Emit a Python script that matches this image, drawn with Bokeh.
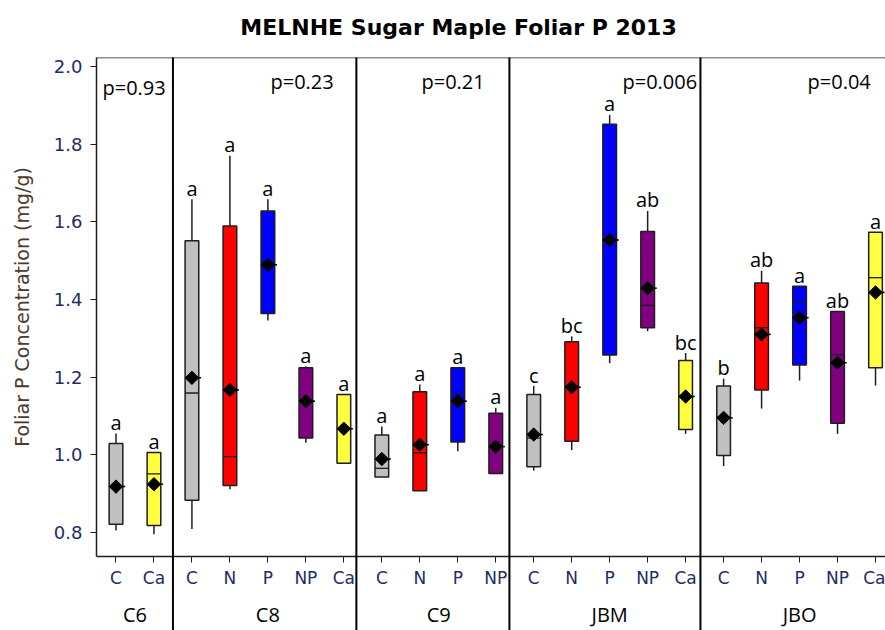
import numpy as np
from bokeh.plotting import figure
from bokeh.models import (ColumnDataSource, FixedTicker, LinearAxis, Range1d, Span,
                          Label, NumeralTickFormatter)
from bokeh.core.properties import value
from bokeh.embed import file_html
from bokeh.resources import INLINE

# Sites and the treatments sampled at each, in plotting order
sites = ["C6", "C8", "C9", "JBM", "JBO"]
site_treatments = [
    ["C", "Ca"],
    ["C", "N", "P", "NP", "Ca"],
    ["C", "N", "P", "NP"],
    ["C", "N", "P", "NP", "Ca"],
    ["C", "N", "P", "NP", "Ca"],
]
p_values = ["p=0.93", "p=0.23", "p=0.21", "p=0.006", "p=0.04"]

# Foliar P (mg/g), one entry per box in plotting order
whisker_low = [0.805, 0.795,
               0.809, 0.911, 1.346, 1.031, 0.978,
               0.943, 0.907, 1.009, 0.952,
               0.959, 1.012, 1.236, 1.318, 1.054,
               0.971, 1.119, 1.191, 1.054, 1.178]
q1 = [0.821, 0.818,
      0.883, 0.921, 1.364, 1.043, 0.978,
      0.943, 0.907, 1.033, 0.952,
      0.969, 1.035, 1.257, 1.327, 1.065,
      0.998, 1.167, 1.231, 1.081, 1.224]
median = [0.918, 0.951,
          1.159, 0.995, 1.490, 1.138, 1.067,
          0.965, 1.005, 1.157, 1.021,
          1.043, 1.174, 1.553, 1.385, 1.150,
          1.098, 1.327, 1.396, 1.258, 1.456]
q3 = [1.029, 1.006,
      1.551, 1.589, 1.628, 1.224, 1.155,
      1.051, 1.162, 1.224, 1.107,
      1.155, 1.291, 1.851, 1.575, 1.243,
      1.177, 1.442, 1.434, 1.369, 1.573]
whisker_high = [1.055, 1.006,
                1.658, 1.770, 1.658, 1.227, 1.155,
                1.073, 1.181, 1.224, 1.121,
                1.177, 1.305, 1.875, 1.628, 1.262,
                1.196, 1.474, 1.434, 1.369, 1.573]
mean = [0.918, 0.924,
        1.198, 1.167, 1.489, 1.138, 1.067,
        0.989, 1.026, 1.138, 1.021,
        1.052, 1.174, 1.553, 1.429, 1.150,
        1.095, 1.310, 1.353, 1.237, 1.418]
letters = ["a", "a",
           "a", "a", "a", "a", "a",
           "a", "a", "a", "a",
           "c", "bc", "a", "ab", "bc",
           "b", "ab", "a", "ab", "a"]

treatment_colors = {"C": "#C0C0C0", "N": "#FF0000", "P": "#0000FF",
                    "NP": "#800080", "Ca": "#FFFF40"}

treatments = [t for group in site_treatments for t in group]
n = len(treatments)
pos = np.arange(n, dtype=float)

# group bookkeeping
starts = np.cumsum([0] + [len(g) for g in site_treatments[:-1]])
centers = [float(s + (len(g) - 1) / 2) for s, g in zip(starts, site_treatments)]

BOX_W = 0.36
src = ColumnDataSource(dict(
    x=pos, lo=whisker_low, q1=q1, med=median, q3=q3, hi=whisker_high, mean=mean,
    letter=letters, color=[treatment_colors[t] for t in treatments],
    xl=pos - BOX_W / 2, xr=pos + BOX_W / 2,
    ml=pos - 0.14, mr=pos + 0.24,
))

Y0, Y1 = 0.738, 2.023
p = figure(width=885, height=630, output_backend="svg", toolbar_location=None,
           x_range=Range1d(-0.513, 20.263), y_range=Range1d(Y0, Y1),
           x_axis_location=None, min_border_left=96, min_border_right=0,
           min_border_top=57, min_border_bottom=74,
           outline_line_color=None, background_fill_color="white")
p.grid.visible = False

INK = "#1e1e1e"

# whiskers
p.segment(x0="x", y0="q3", x1="x", y1="hi", source=src, line_color=INK, line_width=1.5)
p.segment(x0="x", y0="lo", x1="x", y1="q1", source=src, line_color=INK, line_width=1.5)
# boxes
p.vbar(x="x", width=BOX_W, bottom="q1", top="q3", source=src,
       fill_color="color", line_color=INK, line_width=1.5)
# medians
p.segment(x0="xl", y0="med", x1="xr", y1="med", source=src, line_color=INK, line_width=1.3)
# means: diamond with a short dash
p.segment(x0="ml", y0="mean", x1="mr", y1="mean", source=src, line_color="black", line_width=1.5)
p.scatter(x="x", y="mean", source=src, marker="square", angle=np.pi / 4, size=9.5,
          fill_color="black", line_color="black")
# significance letters
p.text(x="x", y="hi", text="letter", source=src, y_offset=-11,
       text_align="center", text_baseline="alphabetic",
       text_font=value("Open Sans"), text_font_size="20px", text_color="black")

# p-values, one per site
pval_x = [-0.355, 4.068, 8.045, 13.338, 18.21]
pval_y = [1.946, 1.961, 1.961, 1.961, 1.961]
for px_, py_, txt in zip(pval_x, pval_y, p_values):
    p.add_layout(Label(x=px_, y=py_, text=txt, text_align="left", text_baseline="middle",
                       text_font="Open Sans", text_font_size="20px", text_color="black"))

# y axis
yax = p.yaxis[0]
yax.ticker = FixedTicker(ticks=[0.8, 1.0, 1.2, 1.4, 1.6, 1.8, 2.0])
yax.formatter = NumeralTickFormatter(format="0.0")
yax.axis_label = "Foliar P Concentration (mg/g)"
yax.axis_label_text_font = "DejaVu Sans"
yax.axis_label_text_font_style = "normal"
yax.axis_label_text_font_size = "19px"
yax.axis_label_text_color = "#4a3a30"
yax.axis_label_standoff = 18
yax.major_label_text_font = "DejaVu Sans"
yax.major_label_text_font_size = "18px"
yax.major_label_text_color = "#1F2B66"
yax.major_label_standoff = 8
yax.axis_line_color = INK
yax.axis_line_width = 1.5
yax.major_tick_line_color = INK
yax.major_tick_out = 6
yax.major_tick_in = 0
yax.minor_tick_line_color = None

# treatment axis
tax = LinearAxis(ticker=FixedTicker(ticks=list(range(n))),
                 major_label_overrides={i: t for i, t in enumerate(treatments)})
tax.major_label_text_font = "DejaVu Sans"
tax.major_label_text_font_size = "17px"
tax.major_label_text_color = "#1F2B66"
tax.major_label_standoff = 5
tax.axis_line_color = INK
tax.axis_line_width = 1.5
tax.major_tick_line_color = INK
tax.major_tick_out = 6
tax.major_tick_in = 0
tax.minor_tick_line_color = None
p.add_layout(tax, "below")

# site axis
sax = LinearAxis(ticker=FixedTicker(ticks=centers),
                 major_label_overrides={c: s for c, s in zip(centers, sites)})
sax.major_label_text_font = "Open Sans"
sax.major_label_text_font_size = "20px"
sax.major_label_text_color = "black"
sax.major_label_standoff = 10
sax.axis_line_color = None
sax.major_tick_line_color = None
sax.major_tick_out = 0
sax.major_tick_in = 0
sax.minor_tick_line_color = None
p.add_layout(sax, "below")

# top frame edge
p.add_layout(Span(location=Y1, dimension="width", line_color=INK, line_width=1.5))

# site separators, running from the top edge down through the label rows
edges = [1.5, 6.33, 10.36, 15.39]
YB = 0.45
p.segment(x0=edges, y0=[Y1] * len(edges), x1=edges, y1=[YB] * len(edges),
          line_color="black", line_width=2, level="overlay")

# title
p.text(x=[9.02], y=[2.10], text=["MELNHE Sugar Maple Foliar P 2013"],
       text_align="center", text_baseline="middle",
       text_font=value("DejaVu Sans"), text_font_style="bold",
       text_font_size="22px", text_color="black", level="overlay")

open("out.html", "w").write(file_html(p, INLINE))
